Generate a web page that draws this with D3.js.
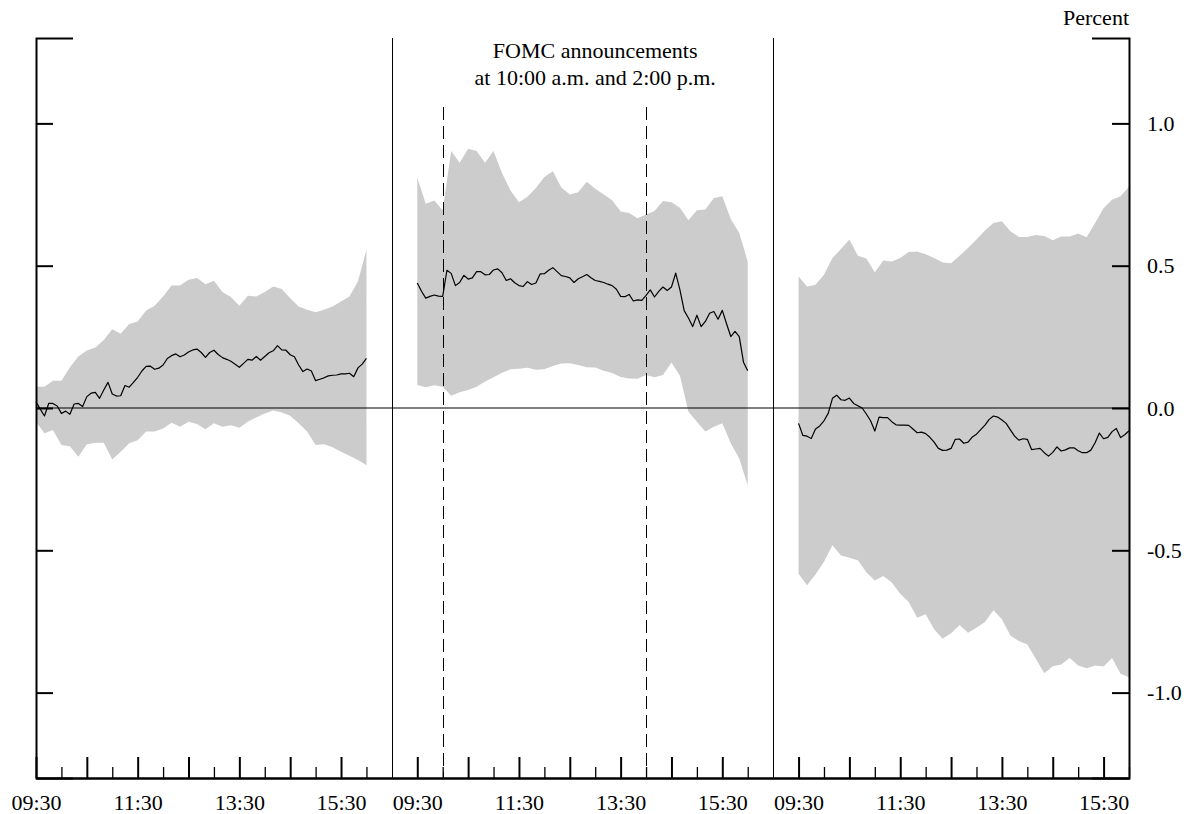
<!DOCTYPE html>
<html>
<head>
<meta charset="utf-8">
<script src="https://cdn.jsdelivr.net/npm/d3@7"></script>
<style>
    body { margin: 0; background: #fff; }
    svg text { font-family: "Liberation Serif", "DejaVu Serif", serif; fill: #000; }
</style>
</head>
<body>
<svg id="chart" width="1196" height="814"></svg>
<script>
// minutes after 09:30 for each band sample (10-min) and line sample (5-min)
const bandMinutes = [0, 10, 20, 30, 40, 50, 60, 70, 80, 90, 100, 110, 120, 130, 140, 150, 160, 170, 180, 190,
    200, 210, 220, 230, 240, 250, 260, 270, 280, 290, 300, 310, 320, 330, 340, 350, 360, 370, 380, 390]
const lineMinutes = [0, 5, 10, 15, 20, 25, 30, 35, 40, 45, 50, 55, 60, 65, 70, 75, 80, 85, 90, 95,
    100, 105, 110, 115, 120, 125, 130, 135, 140, 145, 150, 155, 160, 165, 170, 175, 180, 185, 190, 195,
    200, 205, 210, 215, 220, 225, 230, 235, 240, 245, 250, 255, 260, 265, 270, 275, 280, 285, 290, 295,
    300, 305, 310, 315, 320, 325, 330, 335, 340, 345, 350, 355, 360, 365, 370, 375, 380, 385, 390]

const day1Mean = [0.022, -0.004, -0.028, 0.016, 0.016, 0.007, -0.019, -0.011, -0.022, 0.014, 0.016, 0.005, 0.040, 0.052, 0.055, 0.034, 0.063, 0.090, 0.049, 0.042,
    0.043, 0.079, 0.073, 0.090, 0.108, 0.130, 0.146, 0.147, 0.136, 0.140, 0.151, 0.174, 0.184, 0.190, 0.180, 0.186, 0.197, 0.204, 0.207, 0.195,
    0.178, 0.195, 0.203, 0.188, 0.177, 0.171, 0.164, 0.154, 0.143, 0.157, 0.171, 0.168, 0.181, 0.168, 0.181, 0.194, 0.201, 0.219, 0.204, 0.203,
    0.187, 0.180, 0.151, 0.128, 0.137, 0.130, 0.096, 0.101, 0.106, 0.113, 0.115, 0.116, 0.120, 0.120, 0.122, 0.110, 0.141, 0.154, 0.174]
const day1Upper = [0.075, 0.075, 0.096, 0.096, 0.143, 0.181, 0.202, 0.213, 0.239, 0.277, 0.261, 0.295, 0.304, 0.343, 0.359, 0.392, 0.430, 0.430, 0.451, 0.457,
    0.435, 0.447, 0.408, 0.390, 0.359, 0.394, 0.392, 0.408, 0.427, 0.418, 0.386, 0.357, 0.345, 0.336, 0.345, 0.357, 0.374, 0.392, 0.445, 0.556]
const day1Lower = [-0.048, -0.089, -0.077, -0.130, -0.134, -0.171, -0.127, -0.122, -0.122, -0.181, -0.154, -0.124, -0.113, -0.083, -0.083, -0.072, -0.052, -0.066, -0.048, -0.056,
    -0.075, -0.054, -0.066, -0.061, -0.069, -0.048, -0.033, -0.019, -0.009, -0.016, -0.027, -0.054, -0.083, -0.130, -0.127, -0.138, -0.154, -0.168, -0.183, -0.201]

const day2Mean = [0.439, 0.410, 0.386, 0.392, 0.397, 0.393, 0.392, 0.484, 0.473, 0.430, 0.441, 0.466, 0.453, 0.457, 0.479, 0.479, 0.468, 0.469, 0.485, 0.489,
    0.475, 0.448, 0.454, 0.440, 0.430, 0.427, 0.444, 0.434, 0.439, 0.471, 0.472, 0.484, 0.493, 0.479, 0.465, 0.462, 0.457, 0.441, 0.454, 0.461,
    0.469, 0.458, 0.448, 0.445, 0.441, 0.435, 0.430, 0.417, 0.392, 0.391, 0.399, 0.376, 0.380, 0.378, 0.396, 0.415, 0.390, 0.410, 0.425, 0.413,
    0.425, 0.474, 0.415, 0.342, 0.316, 0.286, 0.326, 0.286, 0.304, 0.333, 0.339, 0.312, 0.343, 0.296, 0.251, 0.269, 0.251, 0.161, 0.131]
const day2Upper = [0.809, 0.718, 0.729, 0.695, 0.903, 0.862, 0.911, 0.903, 0.862, 0.903, 0.826, 0.764, 0.723, 0.742, 0.773, 0.812, 0.832, 0.775, 0.750, 0.758,
    0.795, 0.770, 0.750, 0.730, 0.690, 0.685, 0.667, 0.680, 0.692, 0.727, 0.723, 0.704, 0.660, 0.695, 0.697, 0.738, 0.744, 0.664, 0.615, 0.515]
const day2Lower = [0.081, 0.073, 0.080, 0.075, 0.043, 0.055, 0.063, 0.075, 0.093, 0.108, 0.124, 0.136, 0.138, 0.141, 0.134, 0.136, 0.148, 0.156, 0.157, 0.151,
    0.143, 0.142, 0.131, 0.123, 0.109, 0.104, 0.103, 0.116, 0.108, 0.116, 0.160, 0.113, -0.013, -0.048, -0.083, -0.066, -0.054, -0.124, -0.177, -0.271]

const day3Mean = [-0.054, -0.096, -0.099, -0.107, -0.074, -0.063, -0.045, -0.019, 0.034, 0.045, 0.029, 0.027, 0.035, 0.016, 0.008, 0.000, -0.021, -0.045, -0.081, -0.032,
    -0.034, -0.034, -0.048, -0.059, -0.060, -0.060, -0.061, -0.074, -0.087, -0.085, -0.090, -0.103, -0.120, -0.142, -0.149, -0.148, -0.142, -0.110, -0.109, -0.124,
    -0.120, -0.102, -0.092, -0.076, -0.060, -0.040, -0.028, -0.032, -0.042, -0.054, -0.077, -0.099, -0.113, -0.108, -0.110, -0.146, -0.144, -0.142, -0.157, -0.169,
    -0.156, -0.137, -0.151, -0.147, -0.140, -0.140, -0.150, -0.157, -0.157, -0.148, -0.122, -0.088, -0.108, -0.103, -0.083, -0.072, -0.104, -0.094, -0.080]
const day3Upper = [0.462, 0.427, 0.433, 0.468, 0.527, 0.559, 0.592, 0.535, 0.525, 0.477, 0.518, 0.515, 0.527, 0.548, 0.550, 0.540, 0.527, 0.511, 0.509, 0.535,
    0.562, 0.592, 0.624, 0.650, 0.656, 0.621, 0.601, 0.601, 0.608, 0.604, 0.589, 0.603, 0.603, 0.613, 0.600, 0.650, 0.702, 0.732, 0.744, 0.777]
const day3Lower = [-0.582, -0.623, -0.585, -0.540, -0.482, -0.518, -0.526, -0.535, -0.577, -0.606, -0.590, -0.613, -0.653, -0.682, -0.737, -0.725, -0.777, -0.811, -0.791, -0.762,
    -0.790, -0.772, -0.752, -0.711, -0.742, -0.799, -0.819, -0.831, -0.881, -0.932, -0.907, -0.901, -0.878, -0.905, -0.914, -0.905, -0.908, -0.878, -0.934, -0.946]

const yTicks = [-1.0, -0.5, 0.0, 0.5, 1.0]
const majorMinutes = [0, 60, 120, 180, 240, 300, 360]      // 09:30 ... 15:30
const minorMinutes = [30, 90, 150, 210, 270, 330, 390]     // 10:00 ... 16:00
const labelMinutes = { 0: "09:30", 120: "11:30", 240: "13:30", 360: "15:30" }
const fomcMinutes = [30, 270]                              // 10:00 and 14:00 on day 2

const days = [
    { mean: day1Mean, upper: day1Upper, lower: day1Lower },
    { mean: day2Mean, upper: day2Upper, lower: day2Lower },
    { mean: day3Mean, upper: day3Upper, lower: day3Lower },
]

// 1. Dimensions
const dimensions = {
    width: 1196,
    height: 814,
    margin: { top: 38, right: 67, bottom: 36, left: 36 },
}
dimensions.boundedWidth = dimensions.width - dimensions.margin.left - dimensions.margin.right
dimensions.boundedHeight = dimensions.height - dimensions.margin.top - dimensions.margin.bottom

const dayLength = 450   // 7.5 hours of axis space per day (6.5 trading + gap)
const pos = (day, m) => day * dayLength + m

// 2. Scales
const xScale = d3.scaleLinear()
    .domain([0, pos(2, 390)])
    .range([0, dimensions.boundedWidth])

const yScale = d3.scaleLinear()
    .domain([-1.3, 1.3])
    .range([dimensions.boundedHeight, 0])

// 3. Canvas
const wrapper = d3.select("#chart")
const bounds = wrapper.append("g")
    .attr("transform", `translate(${dimensions.margin.left},${dimensions.margin.top})`)

// 4. Bands and lines
const areaGenerator = d3.area()
    .x(d => xScale(d.x))
    .y0(d => yScale(d.lo))
    .y1(d => yScale(d.hi))

const lineGenerator = d3.line()
    .x(d => xScale(d.x))
    .y(d => yScale(d.v))

days.forEach((day, i) => {
    const band = bandMinutes.map((m, j) => ({ x: pos(i, m), hi: day.upper[j], lo: day.lower[j] }))
    bounds.append("path")
        .attr("d", areaGenerator(band))
        .attr("fill", "#cccccc")
    day.rows = lineMinutes.map((m, j) => ({ x: pos(i, m), v: day.mean[j] }))
})

// zero line
bounds.append("line")
    .attr("x1", 0).attr("x2", dimensions.boundedWidth)
    .attr("y1", yScale(0)).attr("y2", yScale(0))
    .attr("stroke", "#000").attr("stroke-width", 1.2)

// day separators
;[pos(0, 420), pos(1, 420)].forEach(p => {
    bounds.append("line")
        .attr("x1", Math.round(xScale(p)) + 0.5).attr("x2", Math.round(xScale(p)) + 0.5)
        .attr("y1", 0).attr("y2", dimensions.boundedHeight)
        .attr("stroke", "#000").attr("stroke-width", 1)
})

// FOMC announcement markers
fomcMinutes.forEach(m => {
    const px = Math.round(xScale(pos(1, m))) + 0.5
    bounds.append("line")
        .attr("x1", px).attr("x2", px)
        .attr("y1", 69).attr("y2", dimensions.boundedHeight)
        .attr("stroke", "#000").attr("stroke-width", 1)
        .attr("stroke-dasharray", "13,6")
})

days.forEach(day => {
    bounds.append("path")
        .attr("d", lineGenerator(day.rows))
        .attr("fill", "none")
        .attr("stroke", "#000")
        .attr("stroke-width", 1.2)
        .attr("stroke-linejoin", "round")
})

// 5. Axes
const styleAxis = g => {
    g.selectAll(".domain").attr("stroke", "#000").attr("stroke-width", 2)
    g.selectAll(".tick line").attr("stroke", "#000").attr("stroke-width", 2)
    g.selectAll("text").attr("font-family", "Liberation Serif, DejaVu Serif, serif").attr("font-size", 22)
    g.attr("font-family", null).attr("font-size", null)
}

bounds.append("g")
    .call(d3.axisLeft(yScale)
        .tickValues(yTicks)
        .tickSizeInner(-17)
        .tickSizeOuter(-37)
        .tickFormat(""))
    .call(styleAxis)

bounds.append("g")
    .attr("transform", `translate(${dimensions.boundedWidth},0)`)
    .call(d3.axisRight(yScale)
        .tickValues(yTicks)
        .tickSizeInner(-17)
        .tickSizeOuter(-37)
        .tickPadding(18)
        .tickFormat(d => d.toFixed(1)))
    .call(styleAxis)

const allMajor = [0, 1, 2].flatMap(d => majorMinutes.map(m => pos(d, m)))
const allMinor = [0, 1, 2].flatMap(d => minorMinutes.map(m => pos(d, m)))

bounds.append("g")
    .attr("transform", `translate(0,${dimensions.boundedHeight})`)
    .call(d3.axisBottom(xScale)
        .tickValues(allMinor)
        .tickSizeInner(-11)
        .tickSizeOuter(0)
        .tickFormat(""))
    .call(styleAxis)
    .call(g => g.selectAll(".tick line").attr("stroke-width", 1.3))

bounds.append("g")
    .attr("transform", `translate(0,${dimensions.boundedHeight})`)
    .call(d3.axisBottom(xScale)
        .tickValues(allMajor)
        .tickSizeInner(-21)
        .tickSizeOuter(0)
        .tickPadding(16)
        .tickFormat(p => labelMinutes[p % dayLength] || ""))
    .call(styleAxis)

// 6. Labels
wrapper.append("text")
    .attr("x", dimensions.margin.left + dimensions.boundedWidth)
    .attr("y", 25)
    .attr("text-anchor", "end")
    .attr("font-size", 22)
    .text("Percent")

const titleX = dimensions.margin.left + xScale(pos(1, 210))
wrapper.append("text")
    .attr("x", titleX)
    .attr("y", 58)
    .attr("text-anchor", "middle")
    .attr("font-size", 22)
    .text("FOMC announcements")
wrapper.append("text")
    .attr("x", titleX)
    .attr("y", 85)
    .attr("text-anchor", "middle")
    .attr("font-size", 22)
    .text("at 10:00 a.m. and 2:00 p.m.")
</script>
</body>
</html>
